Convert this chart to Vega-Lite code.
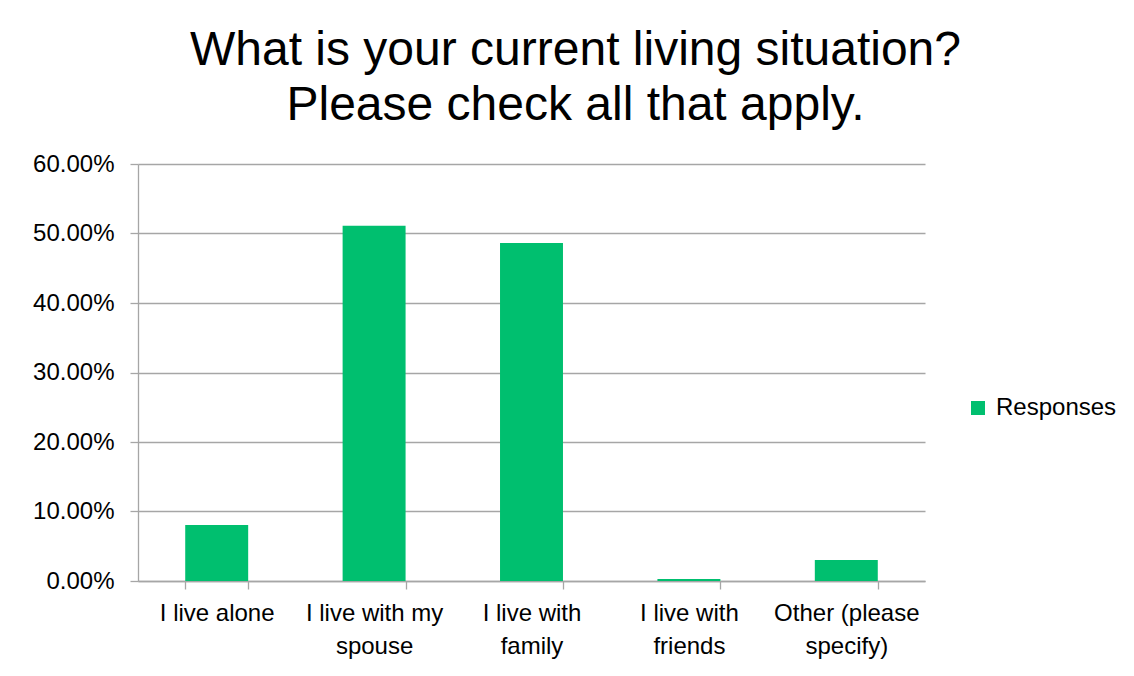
{
  "$schema": "https://vega.github.io/schema/vega-lite/v6.json",
  "autosize": {"type": "none"},
  "width": 787,
  "height": 417,
  "padding": {"left": 138, "top": 164, "right": 209, "bottom": 95},
  "background": "white",
  "title": {
    "text": ["What is your current living situation?", "Please check all that apply."],
    "font": "Liberation Sans",
    "fontSize": 48,
    "fontWeight": "normal",
    "color": "black",
    "anchor": "middle",
    "frame": "group",
    "dx": 44,
    "lineHeight": 55,
    "offset": 22
  },
  "data": {
    "values": [
      {"category": "I live alone", "series": "Responses", "value": 0.0806},
      {"category": "I live with my spouse", "series": "Responses", "value": 0.5112},
      {"category": "I live with family", "series": "Responses", "value": 0.4863},
      {"category": "I live with friends", "series": "Responses", "value": 0.0029},
      {"category": "Other (please specify)", "series": "Responses", "value": 0.0302}
    ]
  },
  "mark": {"type": "bar", "color": "#00BF6F"},
  "encoding": {
    "x": {
      "field": "category",
      "type": "nominal",
      "sort": null,
      "scale": {"paddingInner": 0.6, "paddingOuter": 0.3},
      "axis": {
        "title": null,
        "labelAngle": 0,
        "labelFont": "Liberation Sans",
        "labelFontSize": 24,
        "labelColor": "black",
        "labelLineHeight": 33,
        "labelPadding": 12,
        "labelExpr": "datum.value == 'I live with my spouse' ? ['I live with my', 'spouse'] : datum.value == 'I live with family' ? ['I live with', 'family'] : datum.value == 'I live with friends' ? ['I live with', 'friends'] : datum.value == 'Other (please specify)' ? ['Other (please', 'specify)'] : datum.value",
        "ticks": true,
        "tickBand": "extent",
        "tickSize": 8,
        "tickColor": "#A6A6A6",
        "tickWidth": 1.3,
        "domainColor": "#A6A6A6",
        "domainWidth": 1.3,
        "labelLimit": 300
      }
    },
    "y": {
      "field": "value",
      "type": "quantitative",
      "scale": {"domain": [0, 0.6], "nice": false},
      "axis": {
        "title": null,
        "values": [0, 0.1, 0.2, 0.3, 0.4, 0.5, 0.6],
        "format": ".2%",
        "labelFont": "Liberation Sans",
        "labelFontSize": 24,
        "labelColor": "black",
        "labelPadding": 16,
        "ticks": true,
        "tickSize": 8,
        "tickColor": "#A6A6A6",
        "tickWidth": 1.3,
        "domainColor": "#A6A6A6",
        "domainWidth": 1.3,
        "gridColor": "#A6A6A6",
        "gridWidth": 1.3
      }
    },
    "color": {
      "field": "series",
      "type": "nominal",
      "scale": {"range": ["#00BF6F"]},
      "legend": {
        "title": null,
        "orient": "none",
        "legendX": 828,
        "legendY": 232,
        "symbolType": "square",
        "symbolSize": 196,
        "symbolStrokeWidth": 0,
        "labelFont": "Liberation Sans",
        "labelFontSize": 24,
        "labelColor": "black",
        "labelOffset": 6
      }
    }
  },
  "config": {"view": {"stroke": null}}
}
